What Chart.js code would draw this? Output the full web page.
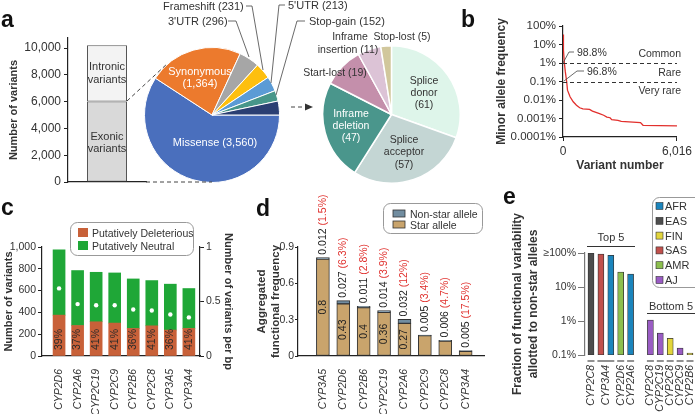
<!DOCTYPE html>
<html>
<head>
<meta charset="utf-8">
<script src="https://cdn.jsdelivr.net/npm/chart.js@4.4.1/dist/chart.umd.min.js"></script>
<style>
html, body { margin: 0; padding: 0; background: #fff; }
#fig { position: relative; width: 695px; height: 414px; overflow: hidden; font-family: "Liberation Sans", Arial, sans-serif; }
#fig canvas { position: absolute; }
#ann { position: absolute; left: 0; top: 0; }
</style>
</head>
<body>
<div id="fig">
  <canvas id="aBar" width="150" height="175" style="left:0;top:20px"></canvas>
  <canvas id="aPie" width="136" height="136" style="left:144px;top:47px"></canvas>
  <canvas id="aPie2" width="139" height="139" style="left:322px;top:45px"></canvas>
  <canvas id="bLine" width="205" height="178" style="left:490px;top:0"></canvas>
  <canvas id="cBar" width="245" height="204" style="left:0;top:210px"></canvas>
  <canvas id="dBar" width="250" height="229" style="left:240px;top:185px"></canvas>
  <canvas id="eBar" width="190" height="209" style="left:505px;top:205px"></canvas>
  <svg id="ann" width="695" height="414" font-family="Liberation Sans, Arial, sans-serif">
    <g font-weight="bold" font-size="23" fill="#111">
      <text x="1" y="27">a</text>
      <text x="461" y="27">b</text>
      <text x="1" y="215">c</text>
      <text x="256" y="216">d</text>
      <text x="503" y="204">e</text>
    </g>
    <!-- a: stacked bar labels and links to the pie -->
    <g font-size="11" fill="#333" text-anchor="middle">
      <text x="107" y="70">Intronic</text><text x="107" y="83">variants</text>
      <text x="107" y="140">Exonic</text><text x="107" y="152">variants</text>
    </g>
    <g stroke="#444" stroke-width="1" stroke-dasharray="4,3" fill="none">
      <line x1="127" y1="101" x2="168" y2="63"/>
      <line x1="146" y1="182" x2="212" y2="182"/>
      <line x1="291" y1="107" x2="306" y2="107"/>
    </g>
    <polygon points="305,103.5 313,107 305,110.5" fill="#333"/>
    <g font-size="11" fill="#fff" text-anchor="middle">
      <text x="200" y="75">Synonymous</text><text x="200" y="87">(1,364)</text>
      <text x="215" y="146">Missense (3,560)</text>
    </g>
    <g font-size="11" fill="#333">
      <text x="163" y="10">Frameshift (231)</text>
      <text x="168" y="25">3'UTR (296)</text>
      <text x="288" y="9">5'UTR (213)</text>
      <text x="309" y="25">Stop-gain (152)</text>
    </g>
    <g stroke="#444" stroke-width="0.8" fill="none">
      <polyline points="246,6 252,6 263,70"/>
      <polyline points="228,21 236,21 249,57"/>
      <polyline points="285,5 279,5 271,83"/>
      <polyline points="305,21 297,21 276,95"/>
    </g>
    <g font-size="10.5" fill="#333" text-anchor="middle">
      <text x="424" y="84">Splice</text><text x="424" y="96">donor</text><text x="424" y="108">(61)</text>
      <text x="404" y="143">Splice</text><text x="404" y="155">acceptor</text><text x="404" y="168">(57)</text>
      <text x="335" y="76">Start-lost (19)</text>
      <text x="350" y="40">Inframe</text><text x="348" y="53">insertion (11)</text>
      <text x="402" y="40">Stop-lost (5)</text>
    </g>
    <g font-size="10.5" fill="#fff" text-anchor="middle">
      <text x="351" y="117">Inframe</text><text x="351" y="129">deletion</text><text x="351" y="141">(47)</text>
    </g>
    <!-- b annotations -->
    <g font-size="10.5" fill="#333">
      <text x="577" y="56">98.8%</text>
      <text x="587" y="75">96.8%</text>
      <text x="681" y="57" text-anchor="end">Common</text>
      <text x="681" y="76" text-anchor="end">Rare</text>
      <text x="681" y="94" text-anchor="end">Very rare</text>
    </g>
    <g stroke="#444" stroke-width="0.8" fill="none">
      <polyline points="574,52 569,52 563,63"/>
      <polyline points="584,71 577,71 564,81"/>
    </g>
    <!-- c legend -->
    <rect x="70.5" y="222.5" width="123" height="33" rx="7" fill="#fff" stroke="#999"/>
    <rect x="78" y="228" width="10" height="9" fill="#c86139"/>
    <rect x="78" y="241" width="10" height="9" fill="#1fa737"/>
    <g font-size="10.5" fill="#333">
      <text x="92" y="236.5">Putatively Deleterious</text>
      <text x="92" y="249.5">Putatively Neutral</text>
    </g>
    <!-- d legend -->
    <rect x="383.5" y="203.5" width="99" height="30" rx="7" fill="#fff" stroke="#999"/>
    <rect x="393" y="210" width="12" height="7" fill="#718da0" stroke="#333" stroke-width="0.8"/>
    <rect x="393" y="221" width="12" height="7" fill="#c9a46c" stroke="#333" stroke-width="0.8"/>
    <g font-size="10.5" fill="#333">
      <text x="410" y="217.5">Non-star allele</text>
      <text x="410" y="228.5">Star allele</text>
    </g>
    <!-- e groups and legend -->
    <g font-size="11" fill="#333" text-anchor="middle">
      <text x="611" y="241">Top 5</text>
      <text x="671" y="310">Bottom 5</text>
    </g>
    <g stroke="#333" stroke-width="1">
      <line x1="587" y1="246.5" x2="635" y2="246.5"/>
      <line x1="647" y1="313.5" x2="695" y2="313.5"/>
    </g>
    <rect x="652.5" y="197.5" width="60" height="90" rx="7" fill="#fff" stroke="#999"/>
    <g id="eLegend" font-size="11" fill="#333"></g>
  </svg>
</div>
<script>
// a: variant counts
const aParts = ['Exonic variants', 'Intronic variants'];
const aPartCounts = [6016, 4200];
const aTypes = ['Missense', 'Synonymous', "3'UTR", 'Frameshift', "5'UTR", 'Stop-gain', 'Other'];
const aTypeCounts = [3560, 1364, 296, 231, 213, 152, 200];
const aOtherTypes = ['Splice donor', 'Splice acceptor', 'Inframe deletion', 'Start-lost', 'Inframe insertion', 'Stop-lost'];
const aOtherCounts = [61, 57, 47, 19, 11, 5];
const aTicks = [0, 2000, 4000, 6000, 8000, 10000];

// b: minor allele frequency (%) along the sorted variants
const bVariant = [0, 15, 33, 72, 120, 193, 237, 372, 540, 710, 880, 1050, 1400, 1555, 1890, 2146, 2315, 2484, 2570, 2900, 3076, 4090, 4225, 6016];
const bMaf = [35, 12, 5, 1, 0.35, 0.1, 0.034, 0.015, 0.008, 0.0052, 0.0038, 0.0033, 0.0031, 0.0025, 0.0019, 0.0015, 0.0012, 0.0011, 0.00086, 0.0008, 0.0007, 0.0006, 0.00043, 0.0004];
const bYTicks = [100, 10, 1, 0.1, 0.01, 0.001, 0.0001];
const bXTicks = [0, 6016];
const bCutoffs = [1, 0.1];

// c: variants per gene
const cGenes = ['CYP2D6', 'CYP2A6', 'CYP2C19', 'CYP2C9', 'CYP2B6', 'CYP2C8', 'CYP3A5', 'CYP3A4'];
const cDeleterious = [375, 280, 314, 302, 253, 277, 238, 253];
const cNeutral = [600, 504, 454, 460, 454, 415, 421, 366];
const cPerBp = [0.62, 0.476, 0.466, 0.466, 0.427, 0.418, 0.381, 0.354];
const cDelPct = ['39%', '37%', '41%', '41%', '36%', '41%', '36%', '41%'];
const cRightTicks = [0, 0.5, 1];

// d: aggregated functional frequency
const dGenes = ['CYP3A5', 'CYP2D6', 'CYP2B6', 'CYP2C19', 'CYP2A6', 'CYP2C9', 'CYP2C8', 'CYP3A4'];
const dStar = [0.8, 0.43, 0.4, 0.36, 0.27, 0.168, 0.123, 0.039];
const dNonStar = [0.012, 0.027, 0.011, 0.014, 0.032, 0.005, 0.006, 0.005];
const dNonStarPct = ['(1.5%)', '(6.3%)', '(2.8%)', '(3.9%)', '(12%)', '(3.4%)', '(4.7%)', '(17.5%)'];
const dStarLabels = ['0.8', '0.43', '0.4', '0.36', '0.27', '', '', ''];
const dTicks = [0, 0.3, 0.6, 0.9];

// e: fraction allotted to non-star alleles (%), top 5 / bottom 5
const eGenes = ['CYP2C8', 'CYP3A4', 'CYP3A4', 'CYP2D6', 'CYP2A6', '', 'CYP2C8', 'CYP2C19', 'CYP2C8', 'CYP2C9', 'CYP2B6'];
const ePops = ['EAS', 'SAS', 'AFR', 'AMR', 'AFR', '', 'AJ', 'AJ', 'FIN', 'AJ', 'FIN'];
const eFrac = [100, 93, 86, 27.5, 24, null, 1.07, 0.44, 0.31, 0.16, 0.114];
const ePopNames = ['AFR', 'EAS', 'FIN', 'SAS', 'AMR', 'AJ'];
const ePopColors = ['#1b85bd', '#4d4d4d', '#e2d53c', '#c1504c', '#8cbf4e', '#9a5cc4'];
const eTicks = [0.1, 1, 10, 100];

const FONT = '"Liberation Sans", Arial, sans-serif';
Chart.defaults.font.family = FONT;
Chart.defaults.color = '#333';
Chart.defaults.animation = false;
Chart.defaults.plugins.legend.display = false;
Chart.defaults.plugins.tooltip.enabled = false;

const axisBorder = { display: true, color: '#222', width: 1.2 };
const tickMarks = { display: true, drawOnChartArea: false, drawTicks: true, tickLength: 4, color: '#222' };
const fixTicks = list => s => { s.ticks = list.map(v => ({ value: v })); };

// ---- a: stacked bar ----
new Chart(document.getElementById('aBar'), {
    type: 'bar',
    data: {
        labels: ['Variants'],
        datasets: [
            { label: aParts[0], data: [aPartCounts[0]], backgroundColor: '#d9d9d9', borderColor: '#555', borderWidth: 1, borderSkipped: false },
            { label: aParts[1], data: [aPartCounts[1]], backgroundColor: '#f3f3f3', borderColor: '#555', borderWidth: 1, borderSkipped: false }
        ]
    },
    options: {
        responsive: false,
        layout: { padding: { top: 18, right: 4, left: 0, bottom: 0 } },
        datasets: { bar: { categoryPercentage: 1, barPercentage: 0.513 } },
        scales: {
            x: { stacked: true, ticks: { display: false }, grid: { display: false }, border: axisBorder,
                 afterFit: s => { s.height = 13; } },
            y: { stacked: true, min: 0, max: 10750, afterBuildTicks: fixTicks(aTicks),
                 ticks: { font: { size: 12 }, padding: 3, callback: v => v.toLocaleString('en-US') },
                 border: axisBorder, grid: tickMarks,
                 title: { display: true, text: 'Number of variants', font: { size: 11, weight: 'bold' }, padding: { top: 7, bottom: 0 } },
                 afterFit: s => { s.width = 68; } }
        }
    }
});

// ---- a: pies ----
new Chart(document.getElementById('aPie'), {
    type: 'pie',
    data: {
        labels: aTypes,
        datasets: [{
            data: aTypeCounts,
            backgroundColor: ['#4a6fbd', '#ec7a2d', '#a6a6a6', '#fdbf0f', '#5b9bd5', '#47968a', '#2b3f73'],
            borderColor: '#fff', borderWidth: 1, hoverOffset: 0
        }]
    },
    options: { responsive: false, rotation: 90, layout: { padding: 0 } }
});

new Chart(document.getElementById('aPie2'), {
    type: 'pie',
    data: {
        labels: aOtherTypes,
        datasets: [{
            data: aOtherCounts,
            backgroundColor: ['#def5ea', '#c4d6d4', '#4a968c', '#c48fab', '#dcc3d6', '#d1c79c'],
            borderColor: '#fff', borderWidth: 1.5, hoverOffset: 0
        }]
    },
    options: { responsive: false, rotation: 0, layout: { padding: 0 } }
});

// ---- b: MAF curve ----
const cutoffLines = {
    id: 'cutoffLines',
    afterDatasetsDraw(chart) {
        const { ctx, chartArea, scales } = chart;
        ctx.save();
        ctx.strokeStyle = '#333';
        ctx.lineWidth = 1;
        ctx.setLineDash([4, 3]);
        bCutoffs.forEach(v => {
            const y = Math.round(scales.y.getPixelForValue(v)) + 0.5;
            ctx.beginPath();
            ctx.moveTo(chartArea.left, y);
            ctx.lineTo(chartArea.right, y);
            ctx.stroke();
        });
        ctx.restore();
    }
};

new Chart(document.getElementById('bLine'), {
    type: 'line',
    data: {
        datasets: [{
            data: bVariant.map((v, i) => ({ x: v, y: bMaf[i] })),
            borderColor: '#e2302d', borderWidth: 1.3, pointRadius: 0, tension: 0
        }]
    },
    options: {
        responsive: false,
        layout: { padding: { left: 0, top: 26, right: 14, bottom: 0 } },
        scales: {
            x: { type: 'linear', min: 0, max: 6016, afterBuildTicks: fixTicks(bXTicks),
                 ticks: { font: { size: 12 }, padding: 3, callback: v => v.toLocaleString('en-US') },
                 border: axisBorder, grid: tickMarks,
                 title: { display: true, text: 'Variant number', font: { size: 12, weight: 'bold' }, padding: { top: 0, bottom: 5 } },
                 afterFit: s => { s.height = 41; } },
            y: { type: 'logarithmic', min: 0.0001, max: 100, afterBuildTicks: fixTicks(bYTicks),
                 ticks: { font: { size: 11.5 }, padding: 3, callback: v => v + '%' },
                 border: axisBorder, grid: tickMarks,
                 title: { display: true, text: 'Minor allele frequency', font: { size: 12, weight: 'bold' }, padding: { top: 4, bottom: 0 } },
                 afterFit: s => { s.width = 73; } }
        }
    },
    plugins: [cutoffLines]
});

// ---- c: variants per gene ----
const cLabels = {
    id: 'cLabels',
    afterDatasetsDraw(chart) {
        const ctx = chart.ctx;
        const meta = chart.getDatasetMeta(0);
        ctx.save();
        ctx.font = '10.5px ' + FONT;
        ctx.fillStyle = '#2a2a2a';
        ctx.textAlign = 'center';
        ctx.textBaseline = 'middle';
        meta.data.forEach((bar, i) => {
            ctx.save();
            ctx.translate(bar.x, bar.base - 16);
            ctx.rotate(-Math.PI / 2);
            ctx.fillText(cDelPct[i], 0, 0);
            ctx.restore();
        });
        ctx.restore();
    }
};

new Chart(document.getElementById('cBar'), {
    type: 'bar',
    data: {
        datasets: [
            { type: 'bar', label: 'Putatively Deleterious', data: cDeleterious.map((v, i) => ({ x: i, y: v })), backgroundColor: '#c86139', barThickness: 12 },
            { type: 'bar', label: 'Putatively Neutral', data: cNeutral.map((v, i) => ({ x: i, y: v })), backgroundColor: '#1fa737', barThickness: 12 },
            { type: 'scatter', label: 'per bp', data: cPerBp.map((v, i) => ({ x: i, y: v })), yAxisID: 'y2',
              pointRadius: 2.2, pointBackgroundColor: '#fff', pointBorderWidth: 0, order: -1 }
        ]
    },
    options: {
        responsive: false,
        layout: { padding: { top: 37, left: 0, right: 0, bottom: 0 } },
        scales: {
            x: { type: 'linear', offset: false, stacked: true, min: -0.92, max: 7.6, afterBuildTicks: fixTicks(cGenes.map((g, i) => i)),
                 ticks: { autoSkip: false, maxRotation: 90, minRotation: 90, padding: 5, font: { size: 10.5, style: 'italic' }, callback: v => cGenes[v] },
                 grid: { display: false }, border: axisBorder,
                 afterFit: s => { s.height = 58; } },
            y: { stacked: true, min: 0, max: 1000, ticks: { stepSize: 200, font: { size: 10.5 }, padding: 2, callback: v => v.toLocaleString('en-US') },
                 border: axisBorder, grid: tickMarks,
                 title: { display: true, text: 'Number of variants', font: { size: 11, weight: 'bold' }, padding: { top: 2, bottom: 0 } },
                 afterFit: s => { s.width = 42; } },
            y2: { position: 'right', min: 0, max: 1, afterBuildTicks: fixTicks(cRightTicks),
                  ticks: { font: { size: 10.5 }, padding: 2, callback: v => String(v) },
                  border: axisBorder, grid: tickMarks,
                  title: { display: true, text: 'Number of variants per bp', font: { size: 11, weight: 'bold' }, padding: { top: 10, bottom: 0 } },
                  afterFit: s => { s.width = 45; } }
        }
    },
    plugins: [cLabels]
});

// ---- d: aggregated functional frequency ----
const dLabels = {
    id: 'dLabels',
    afterDatasetsDraw(chart) {
        const ctx = chart.ctx;
        const star = chart.getDatasetMeta(0).data;
        const nonStar = chart.getDatasetMeta(1).data;
        ctx.save();
        ctx.font = '10.5px ' + FONT;
        ctx.textBaseline = 'middle';
        star.forEach((bar, i) => {
            if (dStarLabels[i]) {
                ctx.save();
                ctx.translate(bar.x, (bar.y + bar.base) / 2);
                ctx.rotate(-Math.PI / 2);
                ctx.textAlign = 'center';
                ctx.fillStyle = '#222';
                ctx.fillText(dStarLabels[i], 0, 0);
                ctx.restore();
            }
            const top = nonStar[i];
            const val = String(dNonStar[i]) + ' ';
            ctx.save();
            ctx.translate(top.x, top.y - 3);
            ctx.rotate(-Math.PI / 2);
            ctx.textAlign = 'left';
            ctx.fillStyle = '#222';
            ctx.fillText(val, 0, 0);
            ctx.fillStyle = '#e0312e';
            ctx.fillText(dNonStarPct[i], ctx.measureText(val).width, 0);
            ctx.restore();
        });
        ctx.restore();
    }
};

new Chart(document.getElementById('dBar'), {
    type: 'bar',
    data: {
        datasets: [
            { label: 'Star allele', data: dStar.map((v, i) => ({ x: i, y: v })), backgroundColor: '#c9a46c',
              borderColor: '#333', borderWidth: 1, borderSkipped: false, barThickness: 13 },
            { label: 'Non-star allele', data: dNonStar.map((v, i) => ({ x: i, y: v })), backgroundColor: '#718da0',
              borderColor: '#333', borderWidth: 1, borderSkipped: false, barThickness: 13 }
        ]
    },
    options: {
        responsive: false,
        layout: { padding: { top: 62, left: 11, right: 6, bottom: 0 } },
        scales: {
            x: { type: 'linear', offset: false, stacked: true, min: -1.22, max: 7.9, afterBuildTicks: fixTicks(dGenes.map((g, i) => i)),
                 ticks: { autoSkip: false, maxRotation: 90, minRotation: 90, padding: 5, font: { size: 10.5, style: 'italic' }, callback: v => dGenes[v] },
                 grid: { display: false }, border: axisBorder,
                 afterFit: s => { s.height = 58; } },
            y: { stacked: true, min: 0, max: 0.9, afterBuildTicks: fixTicks(dTicks),
                 ticks: { font: { size: 10.5 }, padding: 1, callback: v => String(v) },
                 border: axisBorder, grid: Object.assign({}, tickMarks, { tickLength: 3 }),
                 title: { display: true, text: ['Aggregated', 'functional frequency'], font: { size: 11.5, weight: 'bold' }, padding: { top: 4, bottom: 0 } },
                 afterFit: s => { s.width = 47; } }
        }
    },
    plugins: [dLabels]
});

// ---- e: fraction allotted to non-star alleles ----
const popColor = p => ePopColors[ePopNames.indexOf(p)] || '#999';
const ePoints = eFrac.map((v, i) => ({ x: i, y: v, pop: ePops[i] })).filter(p => p.y != null);

const eAxisLabels = {
    id: 'eAxisLabels',
    afterDraw(chart) {
        const { ctx, chartArea, scales } = chart;
        ctx.save();
        ctx.font = 'italic 10.5px ' + FONT;
        ctx.fillStyle = '#333';
        ctx.strokeStyle = '#777';
        ctx.lineWidth = 1.6;
        ctx.textAlign = 'right';
        ctx.textBaseline = 'middle';
        let i = 0;
        while (i < eGenes.length) {
            let j = i + 1;
            while (j < eGenes.length && eGenes[j] === eGenes[i] && eGenes[i] !== '') j++;
            if (eGenes[i] !== '') {
                const x0 = scales.x.getPixelForValue(i);
                const x1 = scales.x.getPixelForValue(j - 1);
                const y = chartArea.bottom + 6;
                ctx.beginPath();
                ctx.moveTo(x0 - 3.5, y);
                ctx.lineTo(x1 + 3.5, y);
                ctx.stroke();
                ctx.save();
                ctx.translate((x0 + x1) / 2, chartArea.bottom + 10);
                ctx.rotate(-Math.PI / 2);
                ctx.fillText(eGenes[i], 0, 0);
                ctx.restore();
            }
            i = j;
        }
        ctx.restore();
    }
};

new Chart(document.getElementById('eBar'), {
    type: 'bar',
    data: {
        datasets: [{
            data: ePoints,
            backgroundColor: c => popColor(c.raw && c.raw.pop),
            borderColor: '#333', borderWidth: 0.8, borderSkipped: false, barThickness: 6
        }]
    },
    options: {
        responsive: false,
        layout: { padding: { top: 48, left: 0, right: 0, bottom: 0 } },
        scales: {
            x: { type: 'linear', offset: false, min: -0.606, max: 10.505, ticks: { display: false }, grid: { display: false }, border: { display: false },
                 afterFit: s => { s.height = 59; } },
            y: { type: 'logarithmic', min: 0.1, max: 100, afterBuildTicks: fixTicks(eTicks),
                 ticks: { font: { size: 10.5 }, padding: 2, callback: v => (v >= 100 ? '\u2265100%' : v + '%') },
                 border: { display: true, color: '#777', width: 1.2 },
                 grid: { display: true, drawOnChartArea: false, drawTicks: true, tickLength: 7, color: '#777' },
                 title: { display: true, text: ['Fraction of functional variability', 'allotted to non-star alleles'],
                          font: { size: 12, weight: 'bold', lineHeight: 1.33 }, padding: { top: 5, bottom: 0 } },
                 afterFit: s => { s.width = 80; } }
        }
    },
    plugins: [eAxisLabels]
});

// legend for e, built from the population list
document.getElementById('eLegend').innerHTML = ePopNames.map((p, i) =>
    '<rect x="656" y="' + (202.5 + i * 14.8) + '" width="7" height="7" fill="' + ePopColors[i] + '" stroke="#333" stroke-width="0.6"/>' +
    '<text x="665" y="' + (210 + i * 14.8) + '">' + p + '</text>'
).join('');
</script>
</body>
</html>
